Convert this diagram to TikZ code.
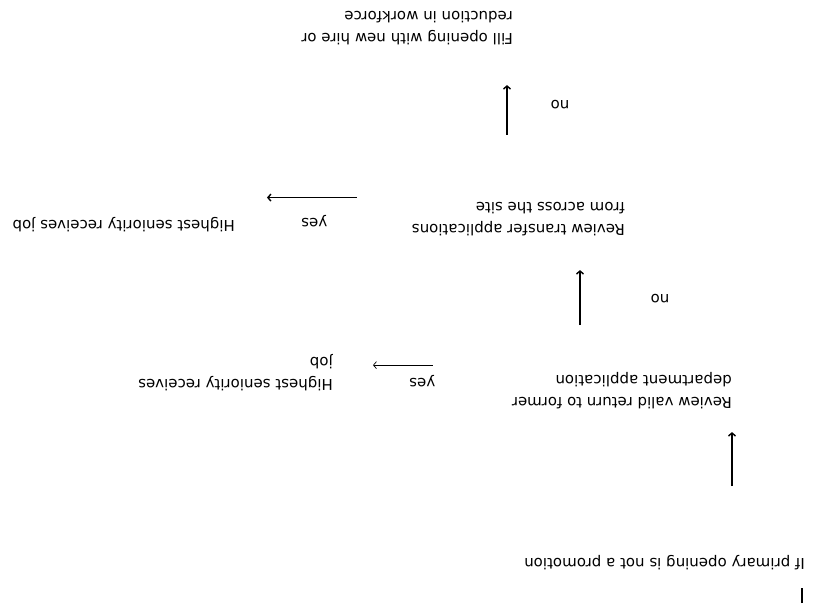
\documentclass[tikz,border=0pt]{standalone}
\usepackage{fontspec}
\setmainfont{DejaVu Sans}
\usetikzlibrary{positioning, arrows.meta, calc}

\begin{document}
\begin{tikzpicture}[
  x=1pt, y=1pt,
  stepbox/.style={inner sep=0pt, align=left, anchor=base west, font=\fontsize{15pt}{22pt}\selectfont},
  lbl/.style={inner sep=0pt, font=\fontsize{15pt}{22pt}\selectfont},
  flow/.style={-{Straight Barb[length=3pt, width=7pt]}, line width=1.4pt},
  thinflow/.style={flow, line width=0.7pt}
]
\begin{scope}[rotate=180, transform shape]
\useasboundingbox (0,0) rectangle (816,-608);

\node[stepbox] (start) at (11,-49.5) {If primary opening is not a promotion};
\node[stepbox] (retdept) at (84,-232.5) {Review valid return to former\\department application};
\node[stepbox] (highA) at (483,-250) {Highest seniority receives\\job};
\node[stepbox] (transfer) at (191,-405.5) {Review transfer applications\\from across the site};
\node[stepbox] (highB) at (581,-387.5) {Highest seniority receives job};
\node[stepbox] (fill) at (303,-596.5) {Fill opening with new hire or\\reduction in workforce};

\coordinate (entry) at (14,-5);
\draw[line width=2pt, shorten >=18pt] (entry) -- (entry |- start.north);

\draw[flow, shorten <=69pt, shorten >=23pt] (start.south -| retdept.west) -- (retdept.north west);
\draw[thinflow, shorten <=79pt, shorten >=40pt] ([yshift=-8pt]retdept.east |- highA.west) -- ([yshift=-8pt]highA.west)
  node[lbl, midway, above=10pt] {yes};
\draw[flow, shorten <=47pt, shorten >=34pt] ([xshift=152pt]retdept.south west) -- ([xshift=45pt]transfer.north west)
  node[lbl, midway, left=70pt, yshift=-6pt] {no};
\draw[flow, shorten <=55pt, shorten >=32pt] ([yshift=-4.5pt]transfer.south east) -- ([yshift=-4.5pt]transfer.south east -| highB.west)
  node[lbl, midway, above=17pt, xshift=9pt] {yes};
\draw[flow, shorten <=67.5pt, shorten >=40pt] ([xshift=118pt]transfer.south west) -- ([xshift=6pt]fill.north west)
  node[lbl, pos=0.62, left=43pt] {no};
\end{scope}
\end{tikzpicture}
\end{document}
